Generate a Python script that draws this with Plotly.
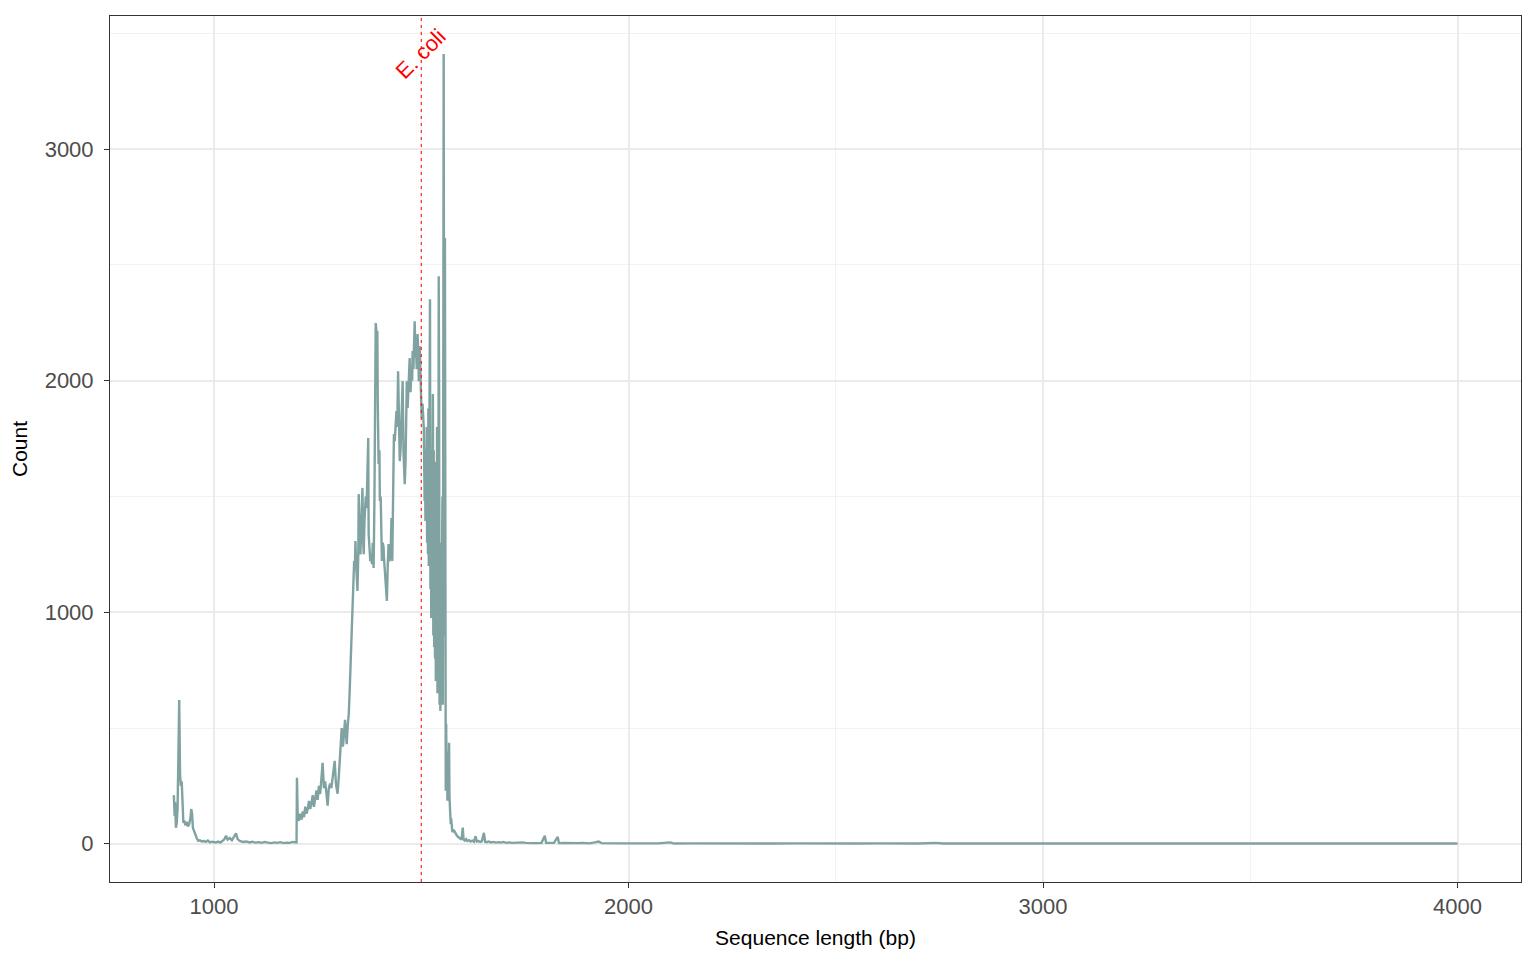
import plotly.graph_objects as go

# ---- data ----
head_bp = [903, 904, 905, 906, 908, 910, 912, 914, 916, 918, 920, 922, 924, 926, 928, 931, 934, 937, 940, 943, 945, 947, 949, 952, 955, 958, 962, 966, 970, 975, 980, 985, 990, 995, 1000]
head_count = [210, 160, 120, 180, 69, 90, 150, 380, 621, 300, 250, 270, 110, 90, 100, 80, 95, 75, 85, 110, 150, 130, 69, 50, 40, 25, 13, 15, 10, 12, 8, 14, 6, 9, 8]

trough_bp = [1005, 1010, 1015, 1020, 1025, 1029, 1033, 1038, 1043, 1048, 1053, 1057, 1062, 1070, 1078, 1085, 1092, 1100, 1108, 1115, 1122, 1130, 1138, 1145, 1152, 1160, 1168, 1175, 1182, 1190, 1196, 1199]
trough_count = [6, 10, 5, 12, 20, 35, 18, 25, 15, 30, 45, 20, 12, 8, 10, 6, 9, 5, 7, 4, 8, 5, 3, 6, 4, 7, 3, 5, 4, 8, 5, 6]

rise_bp = [1200, 1202, 1205, 1208, 1211, 1214, 1217, 1220, 1223, 1226, 1229, 1232, 1235, 1238, 1241, 1244, 1247, 1250, 1253, 1256, 1259, 1262, 1265, 1268, 1271, 1274, 1277, 1280, 1283, 1286, 1289, 1291, 1294, 1296, 1298, 1301, 1304, 1306, 1308, 1311, 1313, 1316, 1318, 1320, 1323, 1325, 1327, 1329, 1331, 1333, 1335, 1337, 1338, 1340, 1341, 1343, 1346, 1348, 1349, 1351, 1353, 1356, 1358, 1360, 1361, 1363, 1366, 1368, 1370, 1372, 1373, 1375, 1377, 1379, 1381, 1383, 1385, 1387, 1388, 1390, 1392, 1394, 1395, 1397, 1399, 1400, 1402, 1404, 1405, 1407, 1409, 1410, 1412, 1414, 1417, 1419, 1421, 1423, 1426, 1428, 1430, 1432, 1434, 1436, 1438, 1440, 1442, 1444, 1446, 1448, 1450, 1452, 1454, 1455, 1457, 1460, 1462, 1463, 1465, 1467, 1469, 1472, 1474, 1476, 1478, 1479, 1481, 1484, 1486, 1487, 1489, 1491, 1493, 1494, 1496, 1498, 1500, 1501, 1503]
rise_count = [285, 110, 100, 130, 105, 140, 115, 160, 130, 150, 185, 150, 175, 210, 160, 200, 230, 190, 250, 215, 300, 350, 240, 270, 220, 165, 240, 260, 240, 280, 330, 358, 260, 240, 216, 290, 380, 430, 500, 420, 470, 535, 480, 430, 520, 560, 650, 760, 850, 950, 1060, 1180, 1221, 1190, 1308, 1200, 1092, 1250, 1510, 1380, 1250, 1400, 1537, 1300, 1251, 1400, 1500, 1450, 1600, 1752, 1338, 1280, 1220, 1250, 1208, 1300, 1191, 1500, 1900, 2249, 2210, 2214, 1900, 1640, 1700, 1480, 1500, 1350, 1221, 1300, 1280, 1234, 1180, 1100, 1049, 1200, 1295, 1220, 1251, 1407, 1221, 1500, 1770, 1739, 1820, 1869, 1800, 2041, 1850, 1653, 1700, 1795, 1900, 1998, 1700, 1553, 1650, 1826, 1998, 1882, 1950, 2098, 1950, 2041, 2000, 2128, 2050, 2257, 2100, 2158, 2050, 2201, 2100, 1998, 2150, 2054, 1950, 1839, 1900]

peak_bp = list(range(1505, 1576))
peak_count = [1850, 1795, 1650, 1480, 1700, 1394, 1600, 1450, 1800, 1300, 1700, 1250, 1880, 1200, 1839, 1500, 2352, 1100, 1700, 975, 1600, 1050, 1890, 1942, 900, 1700, 850, 1500, 800, 1650, 703, 1400, 750, 1800, 650, 1450, 700, 2451, 1950, 600, 1300, 574, 1100, 650, 1062, 747, 1500, 600, 2200, 3411, 1800, 900, 2616, 1000, 229, 518, 300, 400, 186, 302, 250, 200, 436, 200, 112, 160, 86, 110, 65, 80, 50]

tail_bp = [1578, 1582, 1586, 1590, 1594, 1597, 1600, 1602, 1605, 1608, 1611, 1615, 1619, 1623, 1627, 1631, 1634, 1638, 1642, 1646, 1651, 1654, 1658, 1663, 1668, 1674, 1680, 1686, 1692, 1698, 1705, 1712, 1720, 1728, 1736, 1744, 1752, 1760, 1770, 1780, 1790, 1798, 1801, 1810, 1820, 1829, 1832, 1845, 1860, 1875, 1890, 1905, 1915, 1928, 1935, 1950, 1970, 1990, 2010, 2040, 2070, 2101, 2110, 2150, 2200, 2250, 2300, 2350, 2400, 2450, 2500, 2550, 2600, 2650, 2700, 2740, 2760, 2800, 2850, 2900, 2950, 3000, 3100, 3200, 3300, 3400, 3500, 3600, 3700, 3800, 3900, 4000]
tail_count = [60, 45, 35, 28, 22, 18, 70, 18, 14, 20, 12, 16, 10, 14, 9, 33, 10, 12, 8, 11, 47, 9, 7, 10, 6, 8, 5, 7, 5, 8, 4, 6, 4, 5, 3, 6, 4, 3, 5, 3, 4, 35, 4, 3, 4, 30, 3, 4, 2, 3, 4, 2, 5, 10, 3, 2, 3, 2, 2, 1, 2, 6, 1, 2, 1, 2, 1, 1, 2, 1, 1, 1, 2, 1, 1, 4, 1, 1, 2, 1, 1, 1, 1, 1, 2, 1, 1, 1, 1, 1, 1, 1]

length_bp = head_bp + trough_bp + rise_bp + peak_bp + tail_bp
count = head_count + trough_count + rise_count + peak_count + tail_count

ecoli_bp = 1500
ecoli_label = "E. coli"
x_ticks = [1000, 2000, 3000, 4000]
y_ticks = [0, 1000, 2000, 3000]

FONT = "Liberation Sans, Arial, Helvetica, sans-serif"
LINE_COLOR = "#80A3A2"

fig = go.Figure()
fig.add_trace(go.Scatter(
    x=length_bp, y=count, mode="lines",
    line=dict(color=LINE_COLOR, width=2.4),
    hoverinfo="x+y", showlegend=False,
))

fig.add_shape(type="line", xref="x", yref="paper",
              x0=ecoli_bp, x1=ecoli_bp, y0=0, y1=1,
              line=dict(color="rgba(255,0,0,0.8)", width=1.3, dash="3px,4px"))

fig.add_annotation(x=ecoli_bp, y=max(count), xref="x", yref="y",
                   text=ecoli_label, textangle=-45, showarrow=False,
                   font=dict(color="#FF0000", size=22, family=FONT),
                   xanchor="center", yanchor="middle")

axis_common = dict(
    showline=True, linecolor="#333333", linewidth=1, mirror=True,
    ticks="outside", ticklen=5, tickwidth=1, tickcolor="#333333",
    showgrid=True, gridcolor="#EBEBEB", gridwidth=2,
    zeroline=False,
    tickfont=dict(family=FONT, size=22, color="#4D4D4D"),
)

fig.update_xaxes(
    **axis_common,
    range=[749, 4153], tickvals=x_ticks, ticktext=[str(v) for v in x_ticks],
    minor=dict(showgrid=True, gridcolor="#F2F2F2", gridwidth=1, tickvals=[1500, 2500, 3500], ticks=""),
    title=dict(text="Sequence length (bp)", font=dict(family=FONT, size=21, color="#000000"), standoff=11),
    ticklabelstandoff=0,
)
fig.update_yaxes(
    **axis_common,
    range=[-165, 3575], tickvals=y_ticks, ticktext=[str(v) for v in y_ticks],
    minor=dict(showgrid=True, gridcolor="#F2F2F2", gridwidth=1, tickvals=[500, 1500, 2500, 3500], ticks=""),
    title=dict(text="Count", font=dict(family=FONT, size=21, color="#000000"), standoff=16),
    ticklabelstandoff=6,
)

fig.update_layout(
    width=1536, height=960,
    margin=dict(l=102, r=23, t=8, b=86, autoexpand=False),
    plot_bgcolor="#FFFFFF", paper_bgcolor="#FFFFFF",
    font=dict(family=FONT),
)

fig.write_html("out.html")
